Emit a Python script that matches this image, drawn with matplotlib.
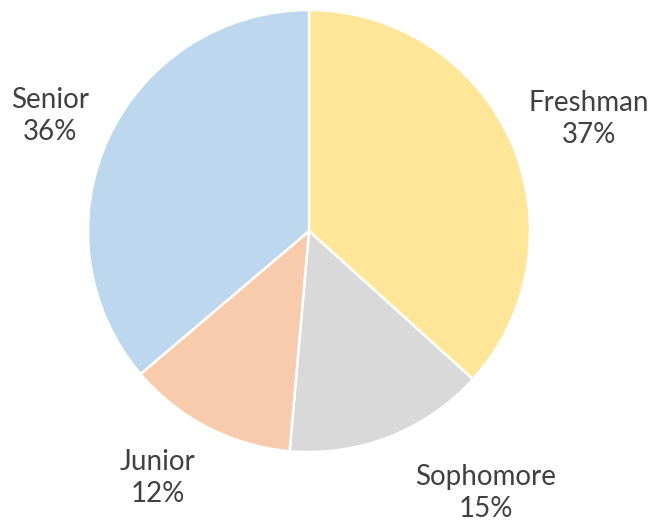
import matplotlib

matplotlib.use("Agg")
import matplotlib.pyplot as plt

# data
classes = ["Freshman", "Sophomore", "Junior", "Senior"]
shares = [36.7, 14.7, 12.4, 36.2]
colors = ["#FFE699", "#D9D9D9", "#F8CBAD", "#BDD7EE"]

# label block centres in pixel coords (x, y from top)
label_pos = {
    "Freshman": (589, 119),
    "Sophomore": (486, 493),
    "Junior": (158, 478),
    "Senior": (50, 116),
}

W, H = 652, 524
fig = plt.figure(figsize=(W / 100, H / 100), dpi=100)
ax = fig.add_axes([0, 0, 1, 1])
ax.axis("off")

ax.pie(shares, colors=colors, startangle=90, counterclock=False,
       center=(309, H - 231), radius=221,
       wedgeprops=dict(edgecolor="white", linewidth=1.8))
ax.set_xlim(0, W)
ax.set_ylim(0, H)
ax.set_aspect("equal")

for name, pct in zip(classes, shares):
    x, y = label_pos[name]
    ax.text(x, H - y, f"{name}\n{pct:.0f}%", ha="center", va="center",
            fontsize=20, family="Lato", color="#404040", linespacing=1.3)

fig.savefig("out.png", dpi=100)
